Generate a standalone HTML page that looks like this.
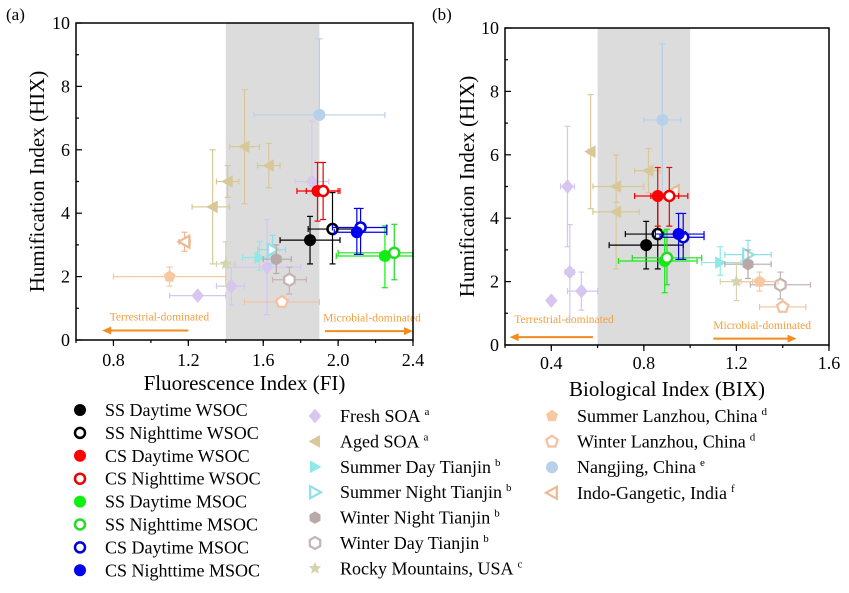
<!DOCTYPE html>
<html><head><meta charset="utf-8"><style>
body{margin:0;background:#fff;}
svg{display:block;font-family:"Liberation Serif",serif;}
</style></head><body>
<svg id="fig" width="849" height="593" viewBox="0 0 849 593" xmlns="http://www.w3.org/2000/svg"></svg>
<script>
const seriesNames=["SS Daytime WSOC","SS Nighttime WSOC","CS Daytime WSOC","CS Nighttime WSOC","SS Daytime MSOC","SS Nighttime MSOC","CS Daytime MSOC","CS Nighttime MSOC","Fresh SOA","Aged SOA","Summer Day Tianjin","Summer Night Tianjin","Winter Night Tianjin","Winter Day Tianjin","Rocky Mountains, USA","Summer Lanzhou, China","Winter Lanzhou, China","Nangjing, China","Indo-Gangetic, India"];
const seriesSup=["","","","","","","","","a","a","b","b","b","b","c","d","d","e","f"];
const seriesColors=["#000","#000","#f00","#e00","#1e1","#2d2","#00d","#00e","#d6c6f0","#d8c898","#90e8e8","#90e0e8","#b8a8a8","#c4b4b4","#d4d4b0","#f8c8a0","#f4c0a0","#b8d0ea","#f0b890"];
const seriesMarkers=["circle","circle","circle","circle","circle","circle","circle","circle","diamond","ltri","rtri","rtri","hex","hex","star","pent","pent","circle","ltri"];
const seriesFilled=[1,0,1,0,1,0,0,1,1,1,1,0,1,0,1,1,0,1,0];
// panel (a): FI vs HIX
const aSeries=[8,8,8,8,9,9,9,9,10,11,12,13,14,15,16,17,18,0,1,2,3,4,5,6,7];
const aX=[1.25,1.43,1.62,1.86,1.5,1.63,1.41,1.33,1.58,1.65,1.67,1.74,1.4,1.1,1.7,1.9,1.18,1.85,1.97,1.89,1.92,2.25,2.3,2.12,2.1];
const aY=[1.4,1.7,2.3,5.0,6.1,5.5,5.0,4.2,2.6,2.85,2.55,1.9,2.4,2.0,1.2,7.1,3.1,3.15,3.5,4.7,4.7,2.65,2.75,3.55,3.4];
const aXlo=[1.1,1.35,1.4,1.77,1.42,1.57,1.35,1.22,1.49,1.57,1.6,1.65,1.35,0.8,1.5,1.55,1.15,1.69,1.84,1.78,1.83,1.99,2.0,1.97,1.98];
const aXhi=[1.4,1.5,1.8,1.95,1.58,1.69,1.47,1.42,1.67,1.72,1.75,1.83,1.45,1.4,1.9,2.25,1.21,2.01,2.12,2.0,2.01,2.4,2.4,2.26,2.26];
const aYlo=[1.4,1.1,0.8,4.6,4.3,4.8,4.5,2.4,2.2,2.4,2.1,1.45,1.7,1.7,1.2,7.1,2.8,2.4,2.4,3.75,3.8,1.65,1.9,2.7,2.7];
const aYhi=[1.4,2.3,3.8,6.9,7.9,6.2,5.5,6.0,3.1,3.3,3.0,2.3,3.1,2.3,1.2,9.5,3.4,3.9,4.65,5.6,5.6,3.6,3.65,4.15,4.15];
// panel (b): BIX vs HIX
const bSeries=[8,8,8,8,9,9,9,9,10,11,12,13,14,15,16,17,18,0,1,2,3,4,5,6,7];
const bX=[0.4,0.53,0.48,0.47,0.57,0.82,0.68,0.68,1.13,1.25,1.25,1.39,1.2,1.3,1.4,0.88,0.93,0.81,0.86,0.86,0.91,0.89,0.9,0.97,0.95];
const bY=[1.4,1.7,2.3,5.0,6.1,5.5,5.0,4.2,2.6,2.85,2.55,1.9,2.0,2.0,1.2,7.1,4.85,3.15,3.5,4.7,4.7,2.65,2.75,3.4,3.5];
const bXlo=[0.39,0.47,0.46,0.44,0.56,0.76,0.58,0.58,1.05,1.15,1.15,1.26,1.13,1.22,1.3,0.8,0.92,0.65,0.72,0.76,0.83,0.69,0.75,0.87,0.85];
const bXhi=[0.41,0.6,0.5,0.5,0.58,0.87,0.8,0.78,1.22,1.35,1.35,1.52,1.27,1.38,1.5,0.96,0.94,0.97,0.98,0.95,0.99,1.03,1.05,1.06,1.06];
const bYlo=[1.4,1.1,0.8,3.1,4.3,4.8,4.5,2.4,2.2,2.5,2.1,1.45,1.4,1.7,1.2,4.7,4.85,2.4,2.4,3.75,3.75,1.65,1.9,2.7,2.7];
const bYhi=[1.4,2.3,3.8,6.9,7.9,6.2,6.0,6.0,3.1,3.3,3.0,2.3,2.6,2.3,1.2,9.5,4.85,3.9,4.65,5.6,5.6,3.6,3.65,4.15,4.15];
const aXTicks=[0.8,1.2,1.6,2.0,2.4];
const bXTicks=[0.4,0.8,1.2,1.6];
const yTicks=[0,2,4,6,8,10];

const NS="http://www.w3.org/2000/svg";
const svg=document.getElementById("fig");
function mk(tag,attrs,parent,txt){const e=document.createElementNS(NS,tag);for(const k in attrs)e.setAttribute(k,attrs[k]);if(txt!==undefined)e.textContent=txt;(parent||svg).appendChild(e);return e;}

function marker(g,type,cx,cy,col,filled,r){
  const fill=filled?col:"#fff",sw=filled?0:2.2;
  let e;
  const poly=(pts)=>mk("polygon",{points:pts.map(p=>(cx+p[0]).toFixed(1)+","+(cy+p[1]).toFixed(1)).join(" "),fill:fill,stroke:col,"stroke-width":sw||0.5},g);
  if(type==="circle")e=mk("circle",{cx:cx,cy:cy,r:filled?r:r-1,fill:fill,stroke:col,"stroke-width":filled?0:2.5},g);
  else if(type==="diamond")e=poly([[0,-r-1],[r,0],[0,r+1],[-r,0]]);
  else if(type==="ltri")e=poly([[-r,0],[r*0.8,-r],[r*0.8,r]]);
  else if(type==="rtri")e=poly([[r,0],[-r*0.8,-r],[-r*0.8,r]]);
  else if(type==="hex"){const p=[];for(let i=0;i<6;i++){const a=Math.PI/6+i*Math.PI/3;p.push([r*Math.cos(a),r*Math.sin(a)]);}e=poly(p);}
  else if(type==="pent"){const p=[];for(let i=0;i<5;i++){const a=-Math.PI/2+i*2*Math.PI/5;p.push([r*Math.cos(a),r*Math.sin(a)]);}e=poly(p);}
  else if(type==="star"){const p=[];for(let i=0;i<10;i++){const a=-Math.PI/2+i*Math.PI/5;const rr=i%2?r*0.45:r;p.push([rr*Math.cos(a),rr*Math.sin(a)]);}e=poly(p);}
  return e;
}

function panel(cfg){
  const {L,R,T,B,xmin,xmax,xt,shade,S,X,Y,XL,XH,YL,YH,title,tag,labX,tickY,titleY,arrows,name}=cfg;
  const g=mk("g",{});
  
  
  const sx=v=>L+(v-xmin)/(xmax-xmin)*(R-L);
  const sy=v=>B-v/10*(B-T);
  const sh=mk("rect",{x:sx(shade[0]),y:T,width:sx(shade[1])-sx(shade[0]),height:B-T,fill:"#dcdcdc"},g);
  
  
  for(let v=0;v<=10.001;v+=1){const y=sy(v);mk("line",{x1:L,x2:L+(v%2===0?6:3),y1:y,y2:y,stroke:"#000","stroke-width":1.2},g);}
  yTicks.forEach(v=>{const t=mk("text",{x:L-6,y:sy(v)+6,"text-anchor":"end","font-size":18},g,String(v));});
  for(let v=xmin;v<=xmax+1e-6;v+=0.2){const x=sx(v);mk("line",{x1:x,x2:x,y1:B,y2:B+3,stroke:"#000","stroke-width":1.2},g);}
  xt.forEach(v=>{mk("line",{x1:sx(v),x2:sx(v),y1:B,y2:B+6,stroke:"#000","stroke-width":1.2},g);const t=mk("text",{x:sx(v),y:tickY,"text-anchor":"middle","font-size":18},g,v.toFixed(1));});
  arrows.forEach(a=>{
    const t=mk("text",{x:sx(a.tx),y:sy(a.ty),"font-size":11.5,fill:"#f0a040"},g,a.label);
    
    const y=sy(a.ay);const x1=sx(a.x1),x2=sx(a.x2);
    mk("line",{x1:x1,x2:x2+(x2>x1?-6:6),y1:y,y2:y,stroke:"#f08c20","stroke-width":2},g);
    const d=x2>x1?-1:1;
    const ar=mk("polygon",{points:`${x2},${y} ${x2+d*9},${y-4} ${x2+d*9},${y+4}`,fill:"#f08c20"},g);
    
  });
  for(let i=0;i<S.length;i++){
    const s=S[i],col=seriesColors[s];
    const eg=mk("g",{},g);
    
    
    const cx=sx(X[i]),cy=sy(Y[i]),x1=sx(XL[i]),x2=sx(XH[i]),y1=sy(YL[i]),y2=sy(YH[i]);
    const ec=col;
    if(x2-x1>1){mk("line",{x1:x1,x2:x2,y1:cy,y2:cy,stroke:ec,"stroke-width":1.2},eg);mk("line",{x1:x1,x2:x1,y1:cy-3,y2:cy+3,stroke:ec,"stroke-width":1.2},eg);mk("line",{x1:x2,x2:x2,y1:cy-3,y2:cy+3,stroke:ec,"stroke-width":1.2},eg);}
    if(y1-y2>1){mk("line",{x1:cx,x2:cx,y1:y1,y2:y2,stroke:ec,"stroke-width":1.2},eg);mk("line",{x1:cx-3,x2:cx+3,y1:y1,y2:y1,stroke:ec,"stroke-width":1.2},eg);mk("line",{x1:cx-3,x2:cx+3,y1:y2,y2:y2,stroke:ec,"stroke-width":1.2},eg);}
    const m=marker(g,seriesMarkers[s],cx,cy,col,seriesFilled[s],6);
    
    
  }
  const fr=mk("rect",{x:L,y:T,width:R-L,height:B-T,fill:"none",stroke:"#000","stroke-width":1.5},g);
  
  const xtl=mk("text",{x:(L+R)/2,y:titleY,"text-anchor":"middle","font-size":21},g,title);
  
  const ytl=mk("text",{x:0,y:0,"text-anchor":"middle","font-size":21,transform:`translate(${labX},${(T+B)/2}) rotate(-90)`},g,"Humification Index (HIX)");
  
  const pt=mk("text",{x:tag[1],y:tag[2],"font-size":17},g,tag[0]);
  
}

panel({name:"panel-a",L:76,R:413,T:23,B:340,xmin:0.6,xmax:2.4,xt:aXTicks,shade:[1.4,1.9],S:aSeries,X:aX,Y:aY,XL:aXlo,XH:aXhi,YL:aYlo,YH:aYhi,
  title:"Fluorescence Index (FI)",tag:["(a)",6,20],labX:44,tickY:366,titleY:390,
  arrows:[{label:"Terrestrial-dominated",tx:0.78,ty:0.62,ay:0.3,x1:1.2,x2:0.74},{label:"Microbial-dominated",tx:1.92,ty:0.58,ay:0.28,x1:1.93,x2:2.4}]});
panel({name:"panel-b",L:505,R:829,T:28,B:345,xmin:0.2,xmax:1.6,xt:bXTicks,shade:[0.6,1.0],S:bSeries,X:bX,Y:bY,XL:bXlo,XH:bXhi,YL:bYlo,YH:bYhi,
  title:"Biological Index (BIX)",tag:["(b)",432,20],labX:474,tickY:369,titleY:396,
  arrows:[{label:"Terrestrial-dominated",tx:0.24,ty:0.7,ay:0.25,x1:0.58,x2:0.22},{label:"Microbial-dominated",tx:1.1,ty:0.5,ay:0.2,x1:1.1,x2:1.46}]});

const legCols=[{ids:[0,1,2,3,4,5,6,7],mx:80,y0:410,dy:22.9},{ids:[8,9,10,11,12,13,14],mx:315,y0:416,dy:25.4},{ids:[15,16,17,18],mx:552,y0:416,dy:25.6}];
const lg=mk("g",{});


legCols.forEach(c=>{c.ids.forEach((s,i)=>{
  const y=c.y0+i*c.dy;
  const eg=mk("g",{},lg);
  
  
  marker(eg,seriesMarkers[s],c.mx,y,seriesColors[s],seriesFilled[s],6);
  const t=mk("text",{x:c.mx+25,y:y+6,"font-size":18},eg,seriesNames[s]);
  if(seriesSup[s]){mk("tspan",{dx:4,dy:-7,"font-size":11},t,seriesSup[s]);}
});});
</script>
</body></html>
